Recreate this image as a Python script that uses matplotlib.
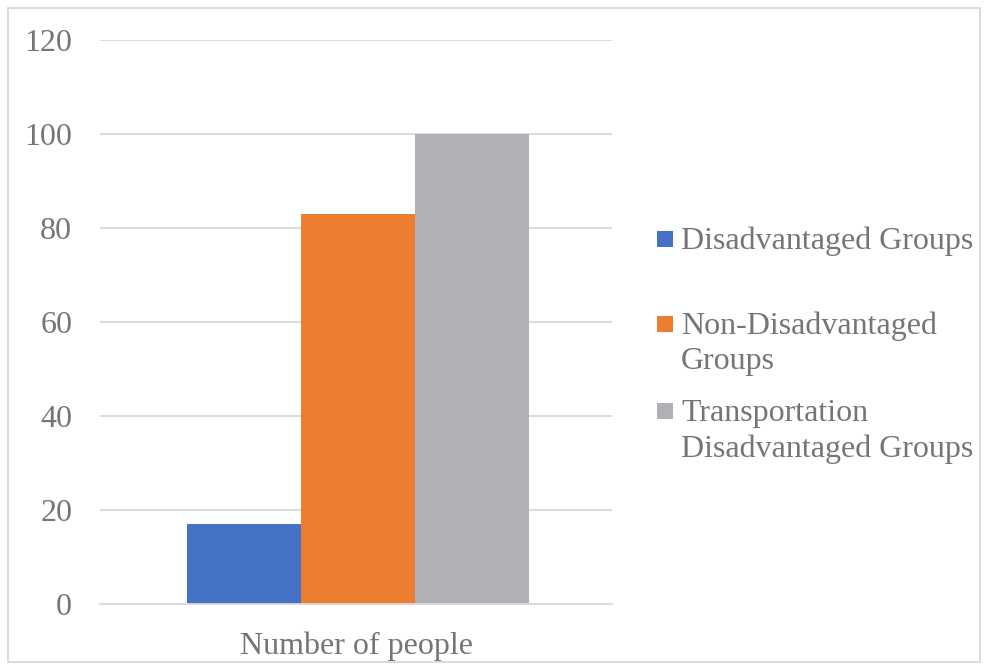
import matplotlib
matplotlib.use("Agg")
import matplotlib.pyplot as plt
from matplotlib.patches import Rectangle

categories = ["Number of people"]
series_names = ["Disadvantaged Groups", "Non-Disadvantaged\nGroups", "Transportation\nDisadvantaged Groups"]
series_values = [[17], [83], [100]]
colors = ["#4472C4", "#ED7D31", "#B0B1B4"]
yticks = [0, 20, 40, 60, 80, 100, 120]

W, H = 988, 670
plt.rcParams['font.family'] = ['Liberation Serif', 'DejaVu Serif']
txt = "#757575"
fs = 23

fig = plt.figure(figsize=(W/100, H/100), dpi=100)
ax = fig.add_axes([100/W, (H-604)/H, (612-100)/W, (604-40)/H])

bw = 342/512/3
n = len(series_values)
for i, (vals, c) in enumerate(zip(series_values, colors)):
    xs = [k + (i - (n-1)/2) * bw + 0.004 for k in range(len(categories))]
    ax.bar(xs, vals, width=bw, color=c, linewidth=0, zorder=3)

ax.set_xlim(-0.5, len(categories) - 0.5)
ax.set_ylim(0, 120)
ax.set_yticks(yticks)
ax.set_yticklabels([str(v) for v in yticks])
ax.set_xticks(range(len(categories)))
ax.set_xticklabels(categories)
ax.grid(axis='y', color='#D9D9D9', linewidth=1.3, zorder=0)
for s in ['top', 'right', 'left']:
    ax.spines[s].set_visible(False)
ax.spines['bottom'].set_color('#D9D9D9')
ax.spines['bottom'].set_linewidth(1.3)
ax.spines['bottom'].set_zorder(4)
ax.tick_params(axis='y', length=0, pad=20, labelsize=fs, labelcolor=txt)
ax.tick_params(axis='x', length=0, pad=20, labelsize=fs, labelcolor=txt)

# legend drawn manually
marker_y = [239, 324, 411]
for name, c, my in zip(series_names, colors, marker_y):
    fig.patches.append(Rectangle((657/W, 1 - (my+8)/H), 16/W, 16/H,
                                 transform=fig.transFigure, color=c, linewidth=0))
    for j, line in enumerate(name.split("\n")):
        fig.text(681/W, 1 - (my + 2 + j*36)/H, line, fontsize=fs, color=txt,
                 ha='left', va='center')

# outer border
fig.patches.append(Rectangle((8/W, 8/H), (980-8)/W, (662-8)/H, transform=fig.transFigure,
                             fill=False, edgecolor='#D9D9D9', linewidth=1.3))

fig.savefig("out.png", dpi=100)
